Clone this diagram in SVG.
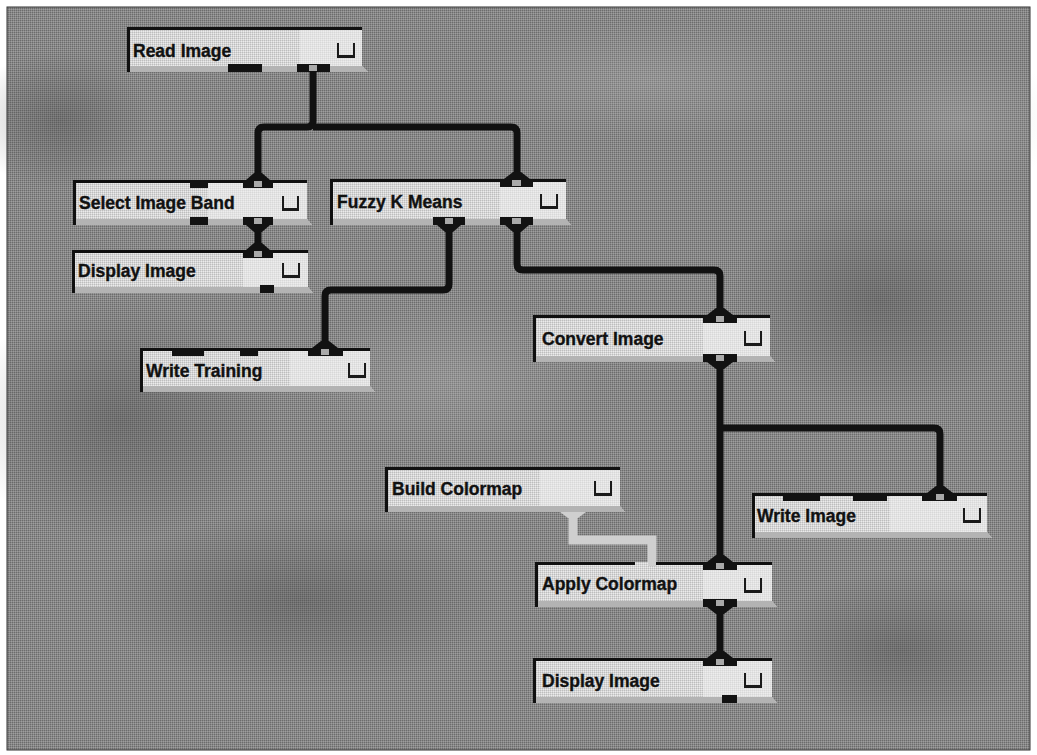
<svg xmlns="http://www.w3.org/2000/svg" width="1037" height="755" viewBox="0 0 1037 755">
<defs>
<pattern id="dith" width="2" height="2" patternUnits="userSpaceOnUse">
<rect width="2" height="2" fill="#888888"/>
<rect width="1" height="1" fill="#6c6c6c"/>
<rect x="1" y="1" width="1" height="1" fill="#9e9e9e"/>
</pattern>
<pattern id="ldith" width="2" height="2" patternUnits="userSpaceOnUse">
<rect width="2" height="2" fill="#d6d6d6"/>
<rect width="1" height="1" fill="#bdbdbd"/>
<rect x="1" y="1" width="1" height="1" fill="#ebebeb"/>
</pattern>
<radialGradient id="blot" cx="0.5" cy="0.5" r="0.5">
<stop offset="0" stop-color="#444" stop-opacity="0.35"/>
<stop offset="1" stop-color="#444" stop-opacity="0"/>
</radialGradient>
<radialGradient id="lblot" cx="0.5" cy="0.5" r="0.5">
<stop offset="0" stop-color="#bbb" stop-opacity="0.25"/>
<stop offset="1" stop-color="#bbb" stop-opacity="0"/>
</radialGradient>
</defs>
<style>
.body{fill:url(#ldith)}
.hi{fill:#eeeeee;opacity:0.55}
.edge{fill:#101010}
.skirt{fill:#b3b3b3}
.lbl{font-family:"Liberation Sans",Arial,sans-serif;font-weight:bold;font-size:17.5px;fill:#111;stroke:#111;stroke-width:0.35}
.port{fill:#121212}
.pin{fill:#a9a9a9}
.flare{fill:#121212}
.wire{fill:none;stroke:#111;stroke-width:7;stroke-linejoin:round;stroke-linecap:butt}
.wire2{fill:none;stroke:#cfcfcf;stroke-width:9;stroke-linejoin:miter}
.cb{fill:none;stroke:#1a1a1a;stroke-width:2}
.cbb{fill:#1a1a1a}
</style>
<rect width="1037" height="755" fill="#ffffff"/>
<rect x="7" y="7" width="1023" height="743" fill="url(#dith)"/>
<g id="texture">
<ellipse cx="120" cy="420" rx="160" ry="120" fill="url(#blot)"/>
<ellipse cx="300" cy="600" rx="200" ry="90" fill="url(#blot)"/>
<ellipse cx="880" cy="300" rx="150" ry="110" fill="url(#blot)"/>
<ellipse cx="650" cy="80" rx="180" ry="60" fill="url(#lblot)"/>
<ellipse cx="450" cy="380" rx="150" ry="80" fill="url(#lblot)"/>
<ellipse cx="900" cy="650" rx="130" ry="80" fill="url(#blot)"/>
<ellipse cx="60" cy="120" rx="90" ry="70" fill="url(#blot)"/>
<ellipse cx="960" cy="120" rx="100" ry="70" fill="url(#lblot)"/>
</g>
<rect x="7" y="7" width="1023" height="743" fill="none" stroke="#333" stroke-width="1"/>

<g id="connectors">
<path class="wire" d="M313,72 V121 Q313,127 307,127 H264 Q258,127 258,133 V180"/>
<path class="wire" d="M313,127 H511 Q517,127 517,133 V179"/>
<path class="wire" d="M258,225 V250"/>
<path class="wire" d="M449,225 V284 Q449,290 443,290 H331 Q325,290 325,296 V348"/>
<path class="wire" d="M517,225 V264 Q517,270 523,270 H714 Q720,270 720,276 V315"/>
<path class="wire" d="M720,362 V562"/>
<path class="wire" d="M720,428 H934 Q940,428 940,434 V493"/>
<path class="wire" d="M720,607 V658"/>
<path class="wire2" d="M573,512 V540 H652 V562"/>
</g>

<g id="node-read-image">
<path class="body" d="M127,27 H362 V66 L368,72 H127 Z"/>
<rect class="hi" x="300" y="30" width="62" height="36"/>
<path class="skirt" d="M130,66 H362 L368,72 H130 Z"/>
<path class="edge" d="M127,27 H362 V30 H130 V72 H127 Z"/>
<rect class="port" x="228" y="64" width="34" height="8"/>
<rect class="port" x="297" y="64" width="33" height="8"/>
<rect class="pin" x="309" y="65" width="8" height="6"/>
<path class="cb" d="M338,43 V56 H354 V43"/>
<rect class="cbb" x="337" y="55" width="18" height="3"/>
<text class="lbl" x="133" y="57">Read Image</text>
</g>

<g id="node-select-image-band">
<path class="body" d="M73,180 H307 V219 L312,225 H73 Z"/>
<rect class="hi" x="208" y="183" width="99" height="36"/>
<path class="skirt" d="M76,219 H307 L312,225 H76 Z"/>
<path class="edge" d="M73,180 H307 V183 H76 V225 H73 Z"/>
<rect class="port" x="190" y="180" width="18" height="8"/>
<rect class="port" x="243" y="180" width="30" height="8"/>
<rect class="pin" x="254" y="181" width="8" height="6"/>
<polygon class="flare" points="254,173 262,173 270,180 246,180"/>
<rect class="port" x="190" y="217" width="18" height="8"/>
<rect class="port" x="243" y="217" width="30" height="8"/>
<rect class="pin" x="254" y="218" width="8" height="6"/>
<polygon class="flare" points="246,225 270,225 262,232 254,232"/>
<path class="cb" d="M283,196 V209 H298 V196"/>
<rect class="cbb" x="282" y="208" width="17" height="3"/>
<text class="lbl" x="79" y="209">Select Image Band</text>
</g>

<g id="node-fuzzy-k-means">
<path class="body" d="M330,179 H566 V219 L571,225 H330 Z"/>
<rect class="hi" x="500" y="182" width="66" height="37"/>
<path class="skirt" d="M333,219 H566 L571,225 H333 Z"/>
<path class="edge" d="M330,179 H566 V182 H333 V225 H330 Z"/>
<rect class="port" x="500" y="179" width="33" height="8"/>
<rect class="pin" x="512" y="180" width="9" height="6"/>
<polygon class="flare" points="513,172 521,172 530,179 504,179"/>
<rect class="port" x="433" y="217" width="32" height="8"/>
<rect class="pin" x="445" y="218" width="8" height="6"/>
<polygon class="flare" points="437,225 461,225 453,232 445,232"/>
<rect class="port" x="500" y="217" width="33" height="8"/>
<rect class="pin" x="512" y="218" width="9" height="6"/>
<polygon class="flare" points="505,225 529,225 521,232 513,232"/>
<path class="cb" d="M541,194 V207 H557 V194"/>
<rect class="cbb" x="540" y="206" width="18" height="3"/>
<text class="lbl" x="337" y="208">Fuzzy K Means</text>
</g>

<g id="node-display-image-1">
<path class="body" d="M72,250 H308 V287 L313,293 H72 Z"/>
<rect class="hi" x="243" y="253" width="65" height="34"/>
<path class="skirt" d="M75,287 H308 L313,293 H75 Z"/>
<path class="edge" d="M72,250 H308 V253 H75 V293 H72 Z"/>
<rect class="port" x="243" y="250" width="30" height="8"/>
<rect class="pin" x="254" y="251" width="8" height="6"/>
<polygon class="flare" points="254,243 262,243 270,250 246,250"/>
<rect class="port" x="260" y="285" width="14" height="8"/>
<path class="cb" d="M283,263 V276 H299 V263"/>
<rect class="cbb" x="282" y="275" width="18" height="3"/>
<text class="lbl" x="78" y="277">Display Image</text>
</g>

<g id="node-write-training">
<path class="body" d="M140,348 H370 V386 L375,392 H140 Z"/>
<rect class="hi" x="290" y="351" width="80" height="35"/>
<path class="skirt" d="M143,386 H370 L375,392 H143 Z"/>
<path class="edge" d="M140,348 H370 V351 H143 V392 H140 Z"/>
<rect class="port" x="172" y="348" width="32" height="8"/>
<rect class="port" x="240" y="348" width="18" height="8"/>
<rect class="port" x="308" y="348" width="35" height="8"/>
<rect class="pin" x="321" y="349" width="8" height="6"/>
<polygon class="flare" points="321,341 329,341 338,348 312,348"/>
<path class="cb" d="M349,363 V376 H365 V363"/>
<rect class="cbb" x="348" y="375" width="18" height="3"/>
<text class="lbl" x="146" y="377">Write Training</text>
</g>

<g id="node-convert-image">
<path class="body" d="M533,315 H770 V356 L775,362 H533 Z"/>
<rect class="hi" x="703" y="318" width="67" height="38"/>
<path class="skirt" d="M536,356 H770 L775,362 H536 Z"/>
<path class="edge" d="M533,315 H770 V318 H536 V362 H533 Z"/>
<rect class="port" x="703" y="315" width="34" height="8"/>
<rect class="pin" x="716" y="316" width="8" height="6"/>
<polygon class="flare" points="716,308 724,308 733,315 707,315"/>
<rect class="port" x="703" y="354" width="34" height="8"/>
<rect class="pin" x="716" y="355" width="8" height="6"/>
<polygon class="flare" points="707,362 733,362 724,369 716,369"/>
<path class="cb" d="M745,331 V344 H761 V331"/>
<rect class="cbb" x="744" y="343" width="18" height="3"/>
<text class="lbl" x="542" y="345">Convert Image</text>
</g>

<g id="node-build-colormap">
<path class="body" d="M385,467 H620 V506 L625,512 H385 Z"/>
<rect class="hi" x="540" y="470" width="80" height="36"/>
<path class="skirt" d="M388,506 H620 L625,512 H388 Z"/>
<path class="edge" d="M385,467 H620 V470 H388 V512 H385 Z"/>
<polygon fill="#cfcfcf" points="560,512 586,512 578,518 568,518"/>
<path class="cb" d="M595,481 V494 H611 V481"/>
<rect class="cbb" x="594" y="493" width="18" height="3"/>
<text class="lbl" x="392" y="495">Build Colormap</text>
</g>

<g id="node-write-image">
<path class="body" d="M752,493 H987 V532 L992,538 H752 Z"/>
<rect class="hi" x="890" y="496" width="97" height="36"/>
<path class="skirt" d="M755,532 H987 L992,538 H755 Z"/>
<path class="edge" d="M752,493 H987 V496 H755 V538 H752 Z"/>
<rect class="port" x="783" y="493" width="37" height="8"/>
<rect class="port" x="853" y="493" width="34" height="8"/>
<rect class="port" x="922" y="493" width="35" height="8"/>
<rect class="pin" x="936" y="494" width="8" height="6"/>
<polygon class="flare" points="936,486 944,486 953,493 927,493"/>
<path class="cb" d="M964,508 V521 H980 V508"/>
<rect class="cbb" x="963" y="520" width="18" height="3"/>
<text class="lbl" x="757" y="522">Write Image</text>
</g>

<g id="node-apply-colormap">
<path class="body" d="M535,562 H772 V601 L777,607 H535 Z"/>
<rect class="hi" x="703" y="565" width="69" height="36"/>
<path class="skirt" d="M538,601 H772 L777,607 H538 Z"/>
<path class="edge" d="M535,562 H635 V565 H538 V607 H535 Z"/>
<path class="edge" d="M655,562 H772 V565 H655 Z"/>
<polygon fill="#cfcfcf" points="648,562 656,562 656,566 648,566"/>
<rect class="port" x="703" y="562" width="34" height="8"/>
<rect class="pin" x="716" y="563" width="8" height="6"/>
<polygon class="flare" points="716,555 724,555 733,562 707,562"/>
<rect class="port" x="703" y="599" width="34" height="8"/>
<rect class="pin" x="716" y="600" width="8" height="6"/>
<polygon class="flare" points="707,607 733,607 724,614 716,614"/>
<path class="cb" d="M745,578 V591 H761 V578"/>
<rect class="cbb" x="744" y="590" width="18" height="3"/>
<text class="lbl" x="542" y="590">Apply Colormap</text>
</g>

<g id="node-display-image-2">
<path class="body" d="M533,658 H772 V697 L777,703 H533 Z"/>
<rect class="hi" x="703" y="661" width="69" height="36"/>
<path class="skirt" d="M536,697 H772 L777,703 H536 Z"/>
<path class="edge" d="M533,658 H772 V661 H536 V703 H533 Z"/>
<rect class="port" x="703" y="658" width="34" height="8"/>
<rect class="pin" x="716" y="659" width="8" height="6"/>
<polygon class="flare" points="716,651 724,651 733,658 707,658"/>
<rect class="port" x="722" y="695" width="15" height="8"/>
<path class="cb" d="M745,673 V686 H761 V673"/>
<rect class="cbb" x="744" y="685" width="18" height="3"/>
<text class="lbl" x="542" y="687">Display Image</text>
</g>
</svg>
